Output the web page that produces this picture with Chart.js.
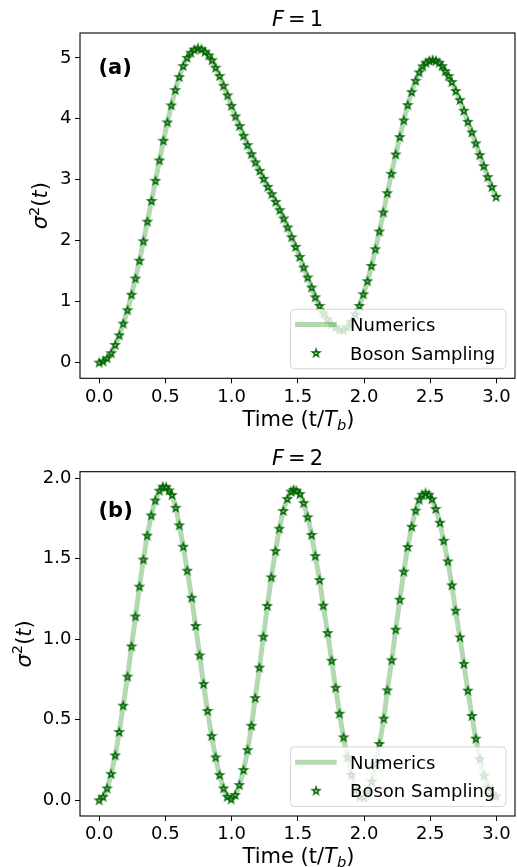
<!DOCTYPE html>
<html><head><meta charset="utf-8">
<script src="https://cdn.jsdelivr.net/npm/chart.js"></script>
<style>
html,body{margin:0;padding:0;background:#fff;overflow:hidden;}
#w1{position:absolute;left:0;top:0;width:519px;height:433px;}
#w2{position:absolute;left:0;top:433px;width:519px;height:434px;}
</style></head><body>
<div id="w1"><canvas id="c1"></canvas></div>
<div id="w2"><canvas id="c2"></canvas></div>
<script>
// ---------- data ----------
const T1 = [0.000,0.030,0.060,0.091,0.121,0.152,0.182,0.214,0.244,0.274,0.304,0.334,0.364,0.395,0.425,0.455,0.485,0.515,0.545,0.575,
0.605,0.635,0.664,0.692,0.719,0.745,0.772,0.799,0.827,0.852,0.879,0.909,0.939,0.969,0.999,1.029,1.060,1.090,1.120,1.150,
1.180,1.212,1.242,1.273,1.303,1.333,1.363,1.393,1.423,1.453,1.483,1.514,1.544,1.574,1.604,1.632,1.664,1.694,1.724,1.754,
1.784,1.814,1.844,1.874,1.904,1.935,1.965,1.995,2.026,2.056,2.086,2.116,2.146,2.176,2.206,2.239,2.270,2.300,2.330,2.360,
2.390,2.417,2.443,2.468,2.493,2.518,2.543,2.568,2.590,2.613,2.638,2.663,2.693,2.724,2.754,2.784,2.814,2.844,2.874,2.904,
2.934,2.965,2.997];
const V1 = [0.00,0.02,0.07,0.155,0.29,0.448,0.64,0.859,1.113,1.379,1.672,1.99,2.312,2.652,2.982,3.317,3.639,3.941,4.22,4.471,
4.685,4.865,5.00,5.084,5.135,5.156,5.14,5.10,5.04,4.96,4.838,4.701,4.542,4.384,4.213,4.039,3.880,3.721,3.568,3.420,
3.284,3.146,3.015,2.884,2.764,2.637,2.501,2.364,2.217,2.057,1.898,1.734,1.560,1.396,1.232,1.072,0.93,0.81,0.71,0.63,
0.575,0.54,0.535,0.58,0.67,0.79,0.929,1.121,1.335,1.586,1.860,2.151,2.463,2.780,3.097,3.415,3.700,3.974,4.225,4.438,
4.624,4.762,4.860,4.920,4.952,4.964,4.952,4.920,4.865,4.783,4.701,4.603,4.455,4.307,4.131,3.951,3.777,3.596,3.404,3.223,
3.043,2.879,2.719];

const T2 = [0.000,0.030,0.060,0.090,0.121,0.151,0.181,0.214,0.244,0.274,0.304,0.334,0.363,0.394,0.424,0.455,0.480,0.505,0.527,0.550,
0.578,0.605,0.635,0.665,0.698,0.728,0.758,0.788,0.818,0.849,0.879,0.909,0.939,0.967,0.997,1.027,1.059,1.090,1.120,1.150,
1.178,1.210,1.240,1.270,1.300,1.331,1.361,1.390,1.421,1.449,1.468,1.489,1.516,1.544,1.574,1.604,1.632,1.664,1.692,1.725,
1.755,1.785,1.815,1.845,1.875,1.905,1.938,1.968,2.000,2.029,2.059,2.088,2.116,2.149,2.176,2.209,2.239,2.270,2.300,2.330,
2.360,2.390,2.417,2.440,2.465,2.490,2.513,2.541,2.573,2.601,2.633,2.663,2.691,2.724,2.754,2.784,2.814,2.844,2.874,2.907,
2.937,2.967,2.997];
const V2 = [0.000,0.022,0.074,0.163,0.279,0.424,0.588,0.768,0.956,1.142,1.327,1.495,1.644,1.769,1.862,1.923,1.948,1.945,1.925,1.896,
1.817,1.708,1.575,1.426,1.258,1.083,0.900,0.722,0.555,0.399,0.267,0.157,0.074,0.022,0.006,0.033,0.095,0.188,0.312,0.463,
0.635,0.824,1.016,1.207,1.385,1.548,1.687,1.797,1.872,1.917,1.928,1.922,1.902,1.846,1.758,1.648,1.517,1.368,1.209,1.039,
0.867,0.699,0.538,0.391,0.267,0.157,0.064,0.022,0.019,0.053,0.116,0.225,0.350,0.507,0.683,0.870,1.060,1.246,1.420,1.573,
1.699,1.799,1.867,1.898,1.907,1.898,1.870,1.809,1.724,1.612,1.484,1.335,1.178,1.012,0.847,0.681,0.524,0.383,0.255,0.153,
0.078,0.035,0.025];

const X_TICKS = [0, 0.5, 1, 1.5, 2, 2.5, 3];
const X_TICK_LABELS = ["0.0","0.5","1.0","1.5","2.0","2.5","3.0"];
const Y1_TICKS = [0, 1, 2, 3, 4, 5];
const Y1_TICK_LABELS = ["0","1","2","3","4","5"];
const Y2_TICKS = [0, 0.5, 1, 1.5, 2];
const Y2_TICK_LABELS = ["0.0","0.5","1.0","1.5","2.0"];
const SERIES_NAMES = ["Numerics", "Boson Sampling"];
const F_VALUES = ["1", "2"];
const PANEL_LABELS = ["(a)", "(b)"];

// ---------- styles ----------
const FAM = '"DejaVu Sans"';
const LINE_COLOR = 'rgba(0,128,0,0.3)';
const STAR_EDGE = '#006600';

function makeStar() {
  const c = document.createElement('canvas');
  c.width = 12; c.height = 12;
  const g = c.getContext('2d');
  const R = 3.9, r = R * 0.381966, cx = 6, cy = 6.2;
  g.beginPath();
  for (let k = 0; k < 10; k++) {
    const ang = -Math.PI / 2 + k * Math.PI / 5;
    const rr = (k % 2 === 0) ? R : r;
    const px = cx + rr * Math.cos(ang), py = cy + rr * Math.sin(ang);
    if (k === 0) g.moveTo(px, py); else g.lineTo(px, py);
  }
  g.closePath();
  g.lineWidth = 1.4;
  g.lineJoin = 'miter';
  g.strokeStyle = STAR_EDGE;
  g.stroke();
  return c;
}
const STAR = makeStar();

function drawRuns(ctx, runs, cx, baseY) {
  let total = 0;
  runs.forEach(r => { ctx.font = r.f; r.w = ctx.measureText(r.t).width + (r.gap || 0); total += r.w; });
  let x = cx - total / 2;
  ctx.textAlign = 'left';
  ctx.textBaseline = 'alphabetic';
  runs.forEach(r => { ctx.font = r.f; ctx.fillText(r.t, x, baseY + (r.dy || 0)); x += r.w; });
}

function decorPlugin(cfg) {
  return {
    id: 'decor' + cfg.idx,
    afterDatasetsDraw(chart) {
      const ctx = chart.ctx, a = chart.chartArea;
      ctx.save();
      // frame (spines)
      ctx.strokeStyle = '#000';
      ctx.lineWidth = 1.1;
      ctx.strokeRect(a.left, a.top, a.right - a.left, a.bottom - a.top);
      // legend (lower right, semi-transparent)
      const lw = 215.6, lh = 59.5;
      const bx = a.right - 9 - lw, by = a.bottom - 9.5 - lh, rad = 4;
      ctx.beginPath();
      ctx.moveTo(bx + rad, by);
      ctx.lineTo(bx + lw - rad, by); ctx.quadraticCurveTo(bx + lw, by, bx + lw, by + rad);
      ctx.lineTo(bx + lw, by + lh - rad); ctx.quadraticCurveTo(bx + lw, by + lh, bx + lw - rad, by + lh);
      ctx.lineTo(bx + rad, by + lh); ctx.quadraticCurveTo(bx, by + lh, bx, by + lh - rad);
      ctx.lineTo(bx, by + rad); ctx.quadraticCurveTo(bx, by, bx + rad, by);
      ctx.closePath();
      ctx.fillStyle = 'rgba(255,255,255,0.8)';
      ctx.fill();
      ctx.strokeStyle = 'rgba(204,204,204,0.8)';
      ctx.lineWidth = 1;
      ctx.stroke();
      const y1 = by + 15.3, y2 = by + 43.7;
      ctx.strokeStyle = LINE_COLOR;
      ctx.lineWidth = 5;
      ctx.beginPath(); ctx.moveTo(bx + 4.7, y1); ctx.lineTo(bx + 46.3, y1); ctx.stroke();
      ctx.drawImage(STAR, bx + 25.7 - STAR.width / 2, y2 - STAR.height / 2);
      ctx.fillStyle = '#000';
      ctx.font = '18px ' + FAM;
      ctx.textAlign = 'left';
      ctx.textBaseline = 'alphabetic';
      ctx.fillText(SERIES_NAMES[0], bx + 59.7, y1 + 6.6);
      ctx.fillText(SERIES_NAMES[1], bx + 59.7, y2 + 6.6);
      ctx.restore();
    },
    afterDraw(chart) {
      const ctx = chart.ctx, a = chart.chartArea;
      const cx = (a.left + a.right) / 2, cy = (a.top + a.bottom) / 2;
      ctx.save();
      ctx.fillStyle = '#000';
      const N = '21px ' + FAM, I = 'italic 21px ' + FAM, S = '14.7px ' + FAM, SI = 'italic 14.7px ' + FAM;
      // title
      drawRuns(ctx, [{t: 'F', f: I, gap: 4}, {t: '=', f: N, gap: 4}, {t: F_VALUES[cfg.idx], f: N}], cx, a.top - 6.8);
      // x label
      drawRuns(ctx, [{t: 'Time (t/', f: N}, {t: 'T', f: I}, {t: 'b', f: SI, dy: 4}, {t: ')', f: N}], cx + 1, a.bottom + 47.3);
      // y label
      ctx.save();
      ctx.translate(cfg.ylabX, cy);
      ctx.rotate(-Math.PI / 2);
      drawRuns(ctx, [{t: 'σ', f: I}, {t: '2', f: S, dy: -8.5}, {t: '(', f: N}, {t: 't', f: I}, {t: ')', f: N}], 0, 0);
      ctx.restore();
      // panel label
      ctx.font = 'bold 21px ' + FAM;
      ctx.textAlign = 'left';
      ctx.textBaseline = 'alphabetic';
      ctx.fillText(PANEL_LABELS[cfg.idx], a.left + 18.5, a.top + cfg.panelDy);
      ctx.restore();
    }
  };
}

function makeChart(canvasId, T, V, yTicks, yLabels, yMin, yMax, cfg) {
  const pts = T.map((t, i) => ({x: t, y: V[i]}));
  const tickFont = {family: 'DejaVu Sans', size: 18};
  return new Chart(document.getElementById(canvasId), {
    type: 'scatter',
    data: {
      datasets: [
        {label: SERIES_NAMES[1], data: pts, pointStyle: STAR, pointRadius: 0.5, pointBorderWidth: 0, showLine: false, order: 0},
        {label: SERIES_NAMES[0], data: pts, showLine: true, borderColor: LINE_COLOR, borderWidth: 5,
         pointRadius: 0, pointBorderWidth: 0, cubicInterpolationMode: 'monotone', fill: false, order: 1}
      ]
    },
    options: {
      responsive: true, maintainAspectRatio: false, animation: false, devicePixelRatio: 1,
      events: [],
      layout: {padding: {top: cfg.top, right: 0, left: 0, bottom: 0}},
      plugins: {legend: {display: false}, tooltip: {enabled: false}, title: {display: false}},
      scales: {
        x: {
          type: 'linear', min: -0.145, max: 3.14,
          afterFit(s) { s.height = cfg.xh; s.paddingLeft = 0; s.paddingRight = 0; },
          afterBuildTicks(s) { s.ticks = X_TICKS.map(v => ({value: v})); },
          ticks: {callback: (v, i) => X_TICK_LABELS[i], font: tickFont, color: '#000', padding: 3, maxRotation: 0, autoSkip: false},
          grid: {drawOnChartArea: false, drawTicks: true, tickLength: 5, color: '#000', lineWidth: 1},
          border: {display: false}
        },
        y: {
          type: 'linear', min: yMin, max: yMax,
          afterFit(s) { s.width = 80; s.paddingTop = 0; s.paddingBottom = 0; },
          afterBuildTicks(s) { s.ticks = yTicks.map(v => ({value: v})); },
          ticks: {callback: (v, i) => yLabels[i], font: tickFont, color: '#000', padding: 3.5, autoSkip: false},
          grid: {drawOnChartArea: false, drawTicks: true, tickLength: 5, color: '#000', lineWidth: 1},
          border: {display: false}
        }
      }
    },
    plugins: [decorPlugin(cfg)]
  });
}

makeChart('c1', T1, V1, Y1_TICKS, Y1_TICK_LABELS, -0.2575, 5.4075, {idx: 0, top: 33, xh: 54.7, panelDy: 41, ylabX: 47.3});
makeChart('c2', T2, V2, Y2_TICKS, Y2_TICK_LABELS, -0.0975, 2.041, {idx: 1, top: 38.7, xh: 51, panelDy: 45.6, ylabX: 30.5});
</script>
</body></html>
